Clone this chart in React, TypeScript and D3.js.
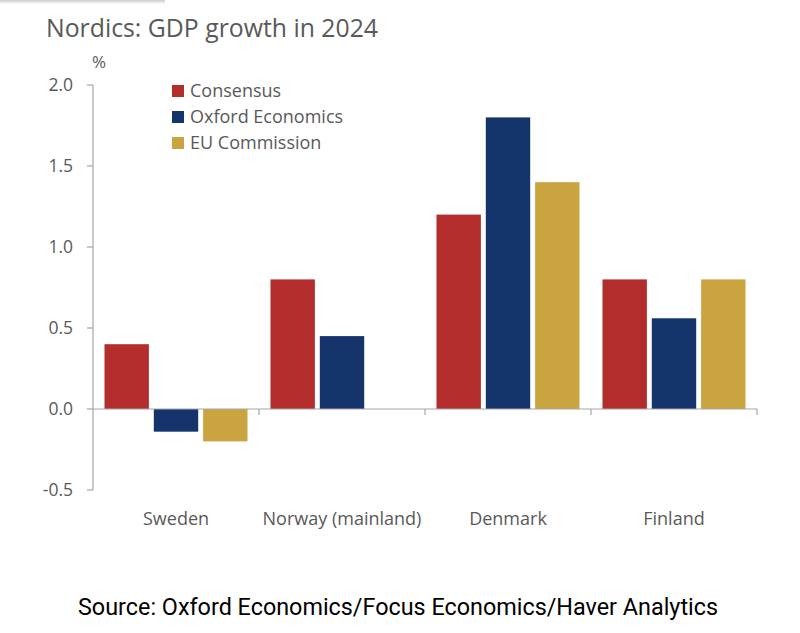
import React from "react";
import * as d3 from "d3";

const categories = ["Sweden", "Norway (mainland)", "Denmark", "Finland"];
const seriesNames = ["Consensus", "Oxford Economics", "EU Commission"];
const consensus = [0.4, 0.8, 1.2, 0.8];
const oxford = [-0.14, 0.45, 1.8, 0.56];
const euCommission = [-0.2, 0, 1.4, 0.8];
const yTicks = [-0.5, 0.0, 0.5, 1.0, 1.5, 2.0];
const colors = ["#B22D2B", "#14346B", "#C9A43F"];

export default function App() {
  const W = 800, H = 633;
  const x0 = d3.scaleBand<string>().domain(categories).range([93, 757]).paddingInner(0).paddingOuter(0);
  const x1 = d3.scaleBand<string>().domain(seriesNames).range([11.5, x0.bandwidth() - 11.5]).paddingInner(0.1).paddingOuter(0);
  const y = d3.scaleLinear().domain([-0.5, 2.0]).range([490, 85]);
  const series = [consensus, oxford, euCommission];
  const textColor = "#595959";
  const axisColor = "#A6A6A6";
  const font = "'Open Sans', 'Noto Sans', sans-serif";
  const fmt = (t: number) => d3.format(".1f")(t).replace("−", "-");
  return (
    <svg width={W} height={H} style={{ position: "absolute", left: 0, top: 0, background: "#fff" }}>
      <defs>
        <linearGradient id="sh" x1="0" y1="0" x2="0" y2="1">
          <stop offset="0" stopColor="#ccc" />
          <stop offset="1" stopColor="#fff" />
        </linearGradient>
      </defs>
      <rect x={0} y={0} width={165} height={4} fill="url(#sh)" />
      <text x={46} y={37} fontFamily={font} fontSize={25.5} fill={textColor} textLength={332} lengthAdjust="spacingAndGlyphs">Nordics: GDP growth in 2024</text>
      <text x={92} y={68} fontFamily={font} fontSize={17} fill={textColor}>%</text>
      {/* y axis */}
      <line x1={93} x2={93} y1={y(2.0)} y2={y(-0.5)} stroke={axisColor} strokeWidth={1.2} />
      {yTicks.map((t) => (
        <g key={t}>
          <line x1={87} x2={93} y1={y(t)} y2={y(t)} stroke={axisColor} strokeWidth={1.2} />
          <text x={73} y={y(t) + 6} textAnchor="end" fontFamily={font} fontSize={17.5} fill={textColor}>
            {fmt(t)}
          </text>
        </g>
      ))}
      {/* bars */}
      {categories.map((c, i) => (
        <g key={c} transform={`translate(${x0(c)},0)`}>
          {series.map((s, j) => {
            const v = s[i];
            if (v === 0) return null;
            return (
              <rect key={j} x={x1(seriesNames[j])} width={x1.bandwidth()} y={y(Math.max(0, v))}
                height={Math.abs(y(v) - y(0))} fill={colors[j]} />
            );
          })}
        </g>
      ))}
      {/* x axis */}
      <line x1={93} x2={757} y1={y(0)} y2={y(0)} stroke={axisColor} strokeWidth={1.2} />
      {categories.map((c) => (
        <line key={"t" + c} x1={(x0(c) as number) + x0.bandwidth()} x2={(x0(c) as number) + x0.bandwidth()}
          y1={y(0)} y2={y(0) + 6} stroke={axisColor} strokeWidth={1.2} />
      ))}
      {categories.map((c) => (
        <text key={"l" + c} x={(x0(c) as number) + x0.bandwidth() / 2} y={525} textAnchor="middle"
          fontFamily={font} fontSize={18} fill={textColor}>{c}</text>
      ))}
      {/* legend */}
      {seriesNames.map((n, j) => (
        <g key={n} transform={`translate(172, ${91 + j * 26})`}>
          <rect x={0} y={-6} width={12} height={12} fill={colors[j]} />
          <text x={18} y={6} fontFamily={font} fontSize={18} fill={textColor}>{n}</text>
        </g>
      ))}
      <text x={398} y={615} textAnchor="middle" fontFamily="Roboto, sans-serif" fontSize={23} fill="#000"
        textLength={640} lengthAdjust="spacingAndGlyphs">
        Source: Oxford Economics/Focus Economics/Haver Analytics
      </text>
    </svg>
  );
}
